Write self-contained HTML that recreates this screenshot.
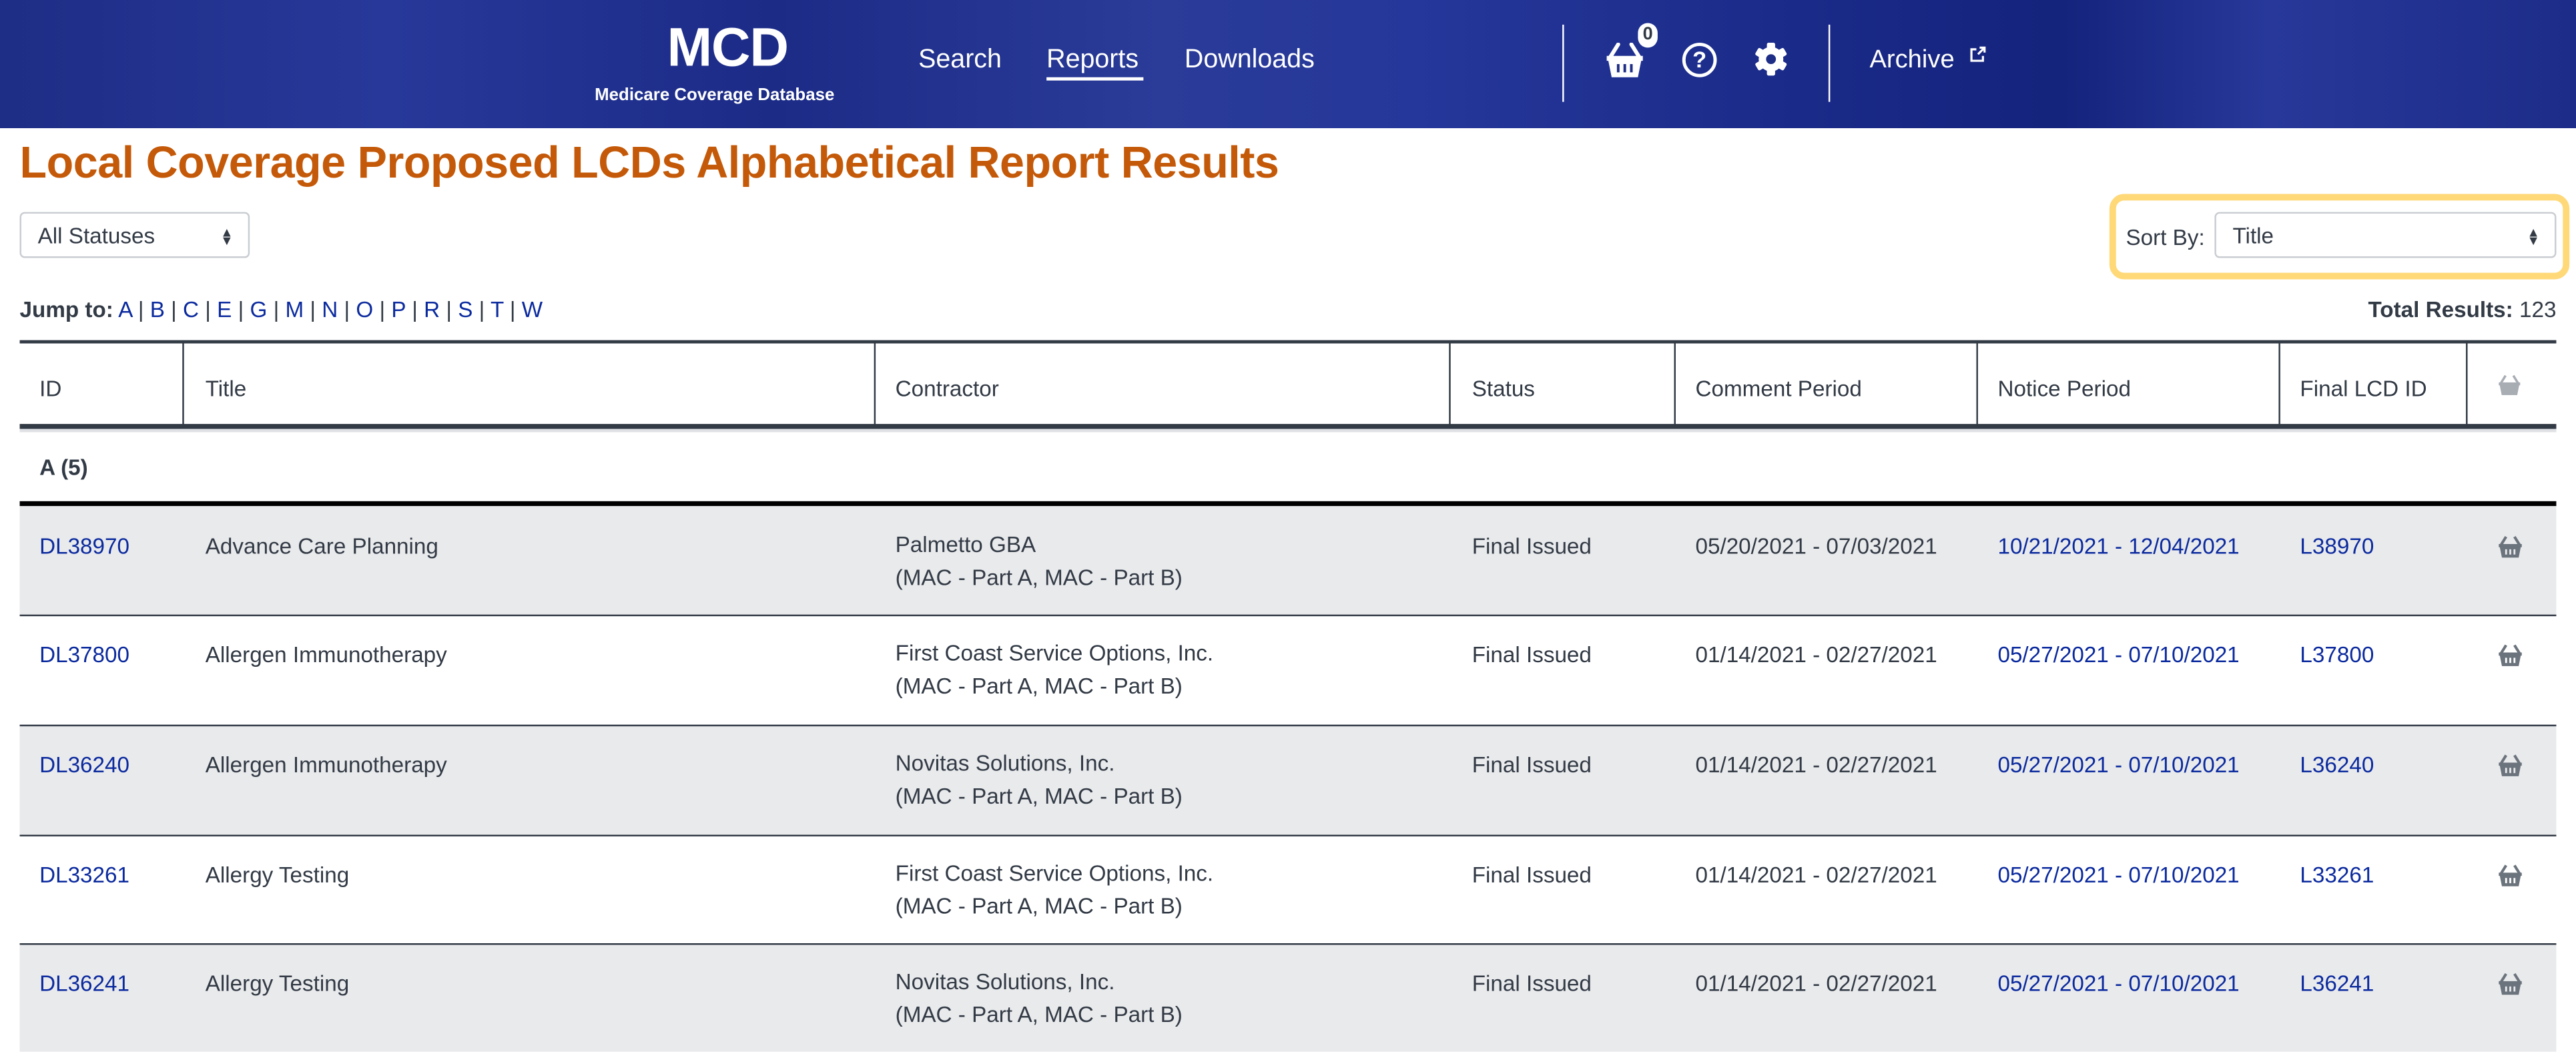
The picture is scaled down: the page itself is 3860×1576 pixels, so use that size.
<!DOCTYPE html>
<html><head><meta charset="utf-8"><style>
html,body{margin:0;padding:0;width:3860px;height:1572px;overflow:hidden;background:#fff}
#w{position:absolute;left:0;top:0;width:1568px;height:639px;transform:scale(2.46173);transform-origin:0 0;font-family:"Liberation Sans",sans-serif;color:#323a45}
.a{position:absolute;white-space:nowrap}
#hd{position:absolute;left:0;top:0;width:1568px;height:78px;background:linear-gradient(90deg,#1e2d85 0%,#27389a 15%,#1c2b86 30%,#2a3b98 45%,#25379a 55%,#1a2a88 70%,#14237c 80%,#27389a 88%,#1d2c88 100%)}
.nav{color:#fff;font-size:16px;top:28px}
.bl{color:#0b2a9e}
.s{font-size:13.5px}
.vl{position:absolute;top:209px;height:50px;width:1px;background:#323a45}
.sel{position:absolute;border:1px solid #c9ccd1;border-radius:3px;background:#fff;height:28px;font-size:13.5px;line-height:28px;box-sizing:border-box;padding-left:10px}
.arr{position:absolute;right:9px;top:9px;font-size:8px;line-height:5px}
</style></head><body><div id="w">
<div id="hd"></div>
<div class="a" style="left:406px;top:10px;color:#fff;font-weight:bold;font-size:33px;letter-spacing:-0.5px">MCD</div>
<div class="a" style="left:362px;top:52px;color:#fff;font-weight:bold;font-size:10.5px">Medicare Coverage Database</div>
<div class="a nav" style="left:559px">Search</div>
<div class="a nav" style="left:637px">Reports</div>
<div class="a" style="left:637px;top:47px;width:59px;height:2px;background:#fff"></div>
<div class="a nav" style="left:721px">Downloads</div>
<div class="a" style="left:951px;top:15px;width:1px;height:47px;background:#fff"></div>
<div class="a" style="left:1113px;top:15px;width:1px;height:47px;background:#fff"></div>
<svg class="a" style="left:977px;top:26px" width="24" height="22" viewBox="0 0 24 22"><path d="M8 1 L3 9 M16 1 L21 9" stroke="#fff" stroke-width="2.4" stroke-linecap="round"/><path d="M1 8 H23 V11 H22 L20 21 H4 L2 11 H1Z" fill="#fff"/><path d="M8 13v5M12 13v5M16 13v5" stroke="#1e2d85" stroke-width="1.6"/></svg>
<div class="a" style="left:997px;top:14px;width:12px;height:15px;border-radius:6px;background:#fff;color:#323a45;font-size:11px;font-weight:bold;text-align:center;line-height:15px">0</div>
<div class="a" style="left:1024px;top:26px;width:17px;height:17px;border:2px solid #fff;border-radius:50%;color:#fff;font-weight:bold;font-size:14px;text-align:center;line-height:17px">?</div>
<svg class="a" style="left:1067px;top:25px" width="22" height="22" viewBox="0 0 22 22"><g fill="#fff"><circle cx="11" cy="11" r="7.5"/><rect x="8.5" y="1" width="5" height="20" rx="1"/><rect x="8.5" y="1" width="5" height="20" rx="1" transform="rotate(60 11 11)"/><rect x="8.5" y="1" width="5" height="20" rx="1" transform="rotate(120 11 11)"/></g><circle cx="11" cy="11" r="3" fill="#1e2d85"/></svg>
<div class="a nav" style="left:1138px;top:28px;font-size:15.5px">Archive</div>
<svg class="a" style="left:1199px;top:28px" width="10" height="10" viewBox="0 0 10 10"><path d="M4 2H1V9H8V6" stroke="#fff" stroke-width="1.3" fill="none"/><path d="M5 5L9 1M6 1H9V4" stroke="#fff" stroke-width="1.3" fill="none"/></svg>
<div class="a" style="left:12px;top:84px;color:#c45a09;font-weight:bold;font-size:27px;letter-spacing:-0.2px">Local Coverage Proposed LCDs Alphabetical Report Results</div>
<div class="sel" style="left:12px;top:129px;width:140px">All Statuses<div class="arr">▲<br>▼</div></div>
<div class="a" style="left:1284px;top:118px;width:272px;height:44px;border:4px solid #ffd878;border-radius:9px"></div>
<div class="a s" style="left:1294px;top:137px">Sort By:</div>
<div class="sel" style="left:1348px;top:129px;width:208px">Title<div class="arr">▲<br>▼</div></div>
<div class="a s" style="left:12px;top:181px"><b>Jump to:</b> <span class="bl">A</span> | <span class="bl">B</span> | <span class="bl">C</span> | <span class="bl">E</span> | <span class="bl">G</span> | <span class="bl">M</span> | <span class="bl">N</span> | <span class="bl">O</span> | <span class="bl">P</span> | <span class="bl">R</span> | <span class="bl">S</span> | <span class="bl">T</span> | <span class="bl">W</span></div>
<div class="a s" style="right:12px;top:181px"><b>Total Results:</b> 123</div>
<div class="a" style="left:12px;top:207px;width:1544px;height:2px;background:#323a45"></div>
<div class="a" style="left:12px;top:258px;width:1544px;height:3px;background:#323a45"></div>
<div class="a" style="left:12px;top:261px;width:1544px;height:2px;background:#dfe1e5"></div>
<div class="vl" style="left:111px"></div><div class="vl" style="left:532px"></div><div class="vl" style="left:882px"></div><div class="vl" style="left:1019px"></div><div class="vl" style="left:1203px"></div><div class="vl" style="left:1387px"></div><div class="vl" style="left:1501px"></div>
<div class="a s" style="left:24px;top:229px">ID</div><div class="a s" style="left:125px;top:229px">Title</div><div class="a s" style="left:545px;top:229px">Contractor</div><div class="a s" style="left:896px;top:229px">Status</div><div class="a s" style="left:1032px;top:229px">Comment Period</div><div class="a s" style="left:1216px;top:229px">Notice Period</div><div class="a s" style="left:1400px;top:229px">Final LCD ID</div>
<svg class="a" style="left:1520px;top:228px" width="15" height="13" viewBox="0 0 24 22"><path d="M8 1 L3 9 M16 1 L21 9" stroke="#a8adb4" stroke-width="2.4"/><path d="M1 8 H23 V11 H22 L20 21 H4 L2 11 H1Z" fill="#a8adb4"/></svg>
<div class="a s" style="left:24px;top:277px;font-weight:bold">A (5)</div>
<div class="a" style="left:12px;top:305px;width:1544px;height:3px;background:#000"></div>
<div id="rows"></div>
<script>
var d=[["DL38970","Advance Care Planning","Palmetto GBA","05/20/2021 - 07/03/2021","10/21/2021 - 12/04/2021","L38970"],
["DL37800","Allergen Immunotherapy","First Coast Service Options, Inc.","01/14/2021 - 02/27/2021","05/27/2021 - 07/10/2021","L37800"],
["DL36240","Allergen Immunotherapy","Novitas Solutions, Inc.","01/14/2021 - 02/27/2021","05/27/2021 - 07/10/2021","L36240"],
["DL33261","Allergy Testing","First Coast Service Options, Inc.","01/14/2021 - 02/27/2021","05/27/2021 - 07/10/2021","L33261"],
["DL36241","Allergy Testing","Novitas Solutions, Inc.","01/14/2021 - 02/27/2021","05/27/2021 - 07/10/2021","L36241"]];
var tops=[308,374,441,508,574],h='';
d.forEach(function(r,i){var t=tops[i],bg=i%2==0?'#e9eaec':'#fff',hh=(i<4?tops[i+1]:640)-t;
h+='<div class="a" style="left:12px;top:'+t+'px;width:1544px;height:'+hh+'px;background:'+bg+';'+(i>0?'border-top:1px solid #323a45;box-sizing:border-box':'')+'"></div>';
var y=t+17;
h+='<div class="a s bl" style="left:24px;top:'+y+'px">'+r[0]+'</div>';
h+='<div class="a s" style="left:125px;top:'+y+'px">'+r[1]+'</div>';
h+='<div class="a s" style="left:545px;line-height:20px;top:'+(y-3)+'px">'+r[2]+'<br>(MAC - Part A, MAC - Part B)</div>';
h+='<div class="a s" style="left:896px;top:'+y+'px">Final Issued</div>';
h+='<div class="a s" style="left:1032px;top:'+y+'px">'+r[3]+'</div>';
h+='<div class="a s bl" style="left:1216px;top:'+y+'px">'+r[4]+'</div>';
h+='<div class="a s bl" style="left:1400px;top:'+y+'px">'+r[5]+'</div>';
h+='<svg class="a" style="left:1520px;top:'+(y+1)+'px" width="16" height="14" viewBox="0 0 24 22"><path d="M8 1 L3 9 M16 1 L21 9" stroke="#6b737c" stroke-width="2.6"/><path d="M1 8 H23 V11 H22 L20 21 H4 L2 11 H1Z" fill="#6b737c"/><path d="M8 13v5M12 13v5M16 13v5" stroke="'+bg+'" stroke-width="1.8"/></svg>';});
document.getElementById('rows').outerHTML=h;
</script>
</div></body></html>
